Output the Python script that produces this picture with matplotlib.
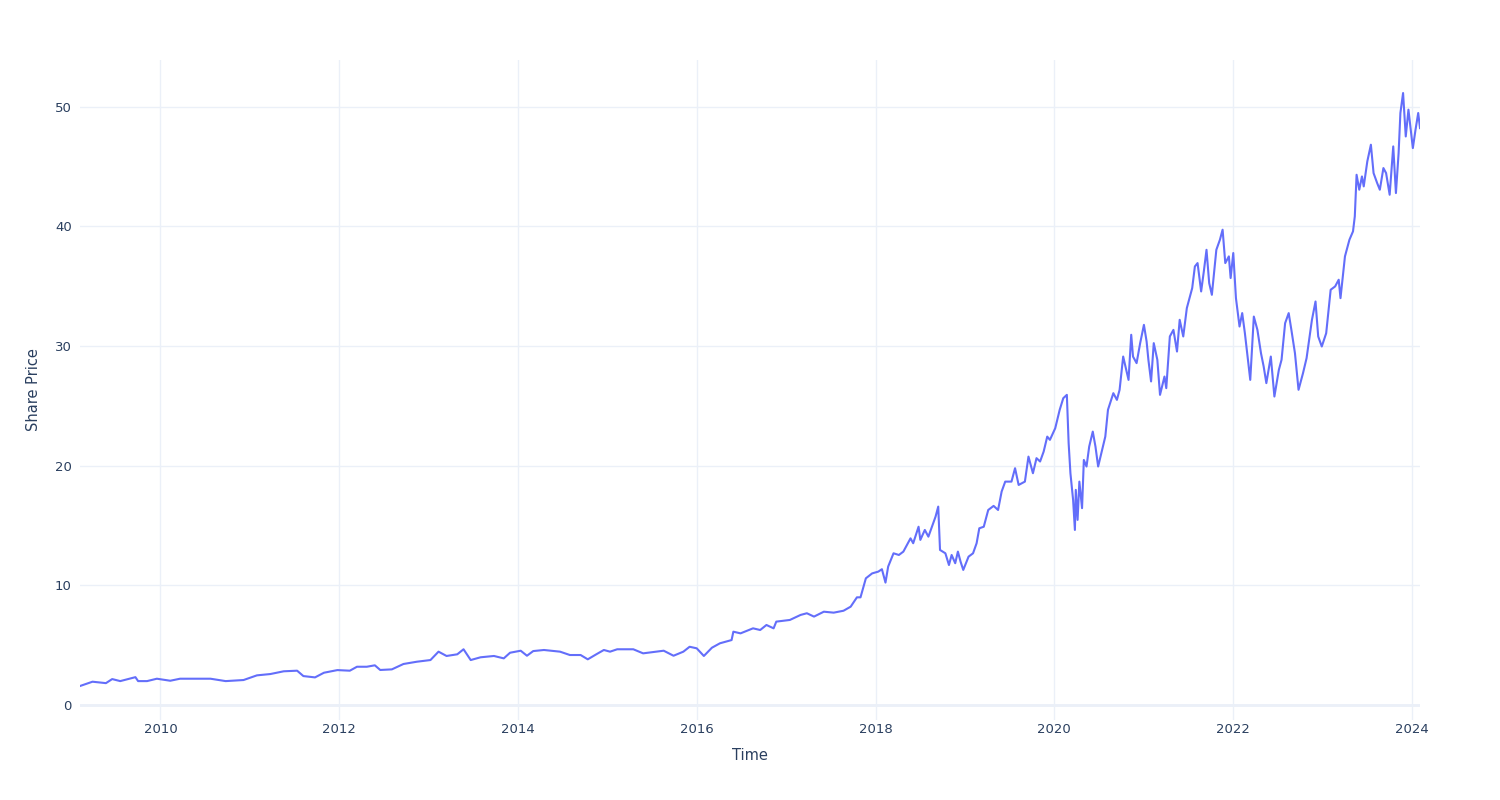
import matplotlib
matplotlib.use("Agg")
import matplotlib.pyplot as plt
import matplotlib.dates as mdates
import pandas as pd

# decimal years and share prices
years = [2009.10, 2009.24, 2009.39, 2009.46, 2009.55, 2009.72, 2009.75, 2009.85, 2009.96,
         2010.11, 2010.22, 2010.41, 2010.56, 2010.73, 2010.93, 2011.08, 2011.23, 2011.38,
         2011.53, 2011.60, 2011.73, 2011.83, 2011.98, 2012.12, 2012.20, 2012.31, 2012.40,
         2012.46, 2012.59, 2012.72, 2012.87, 2013.02, 2013.11, 2013.20, 2013.32, 2013.39,
         2013.47, 2013.58, 2013.73, 2013.84, 2013.91, 2014.03, 2014.10, 2014.17, 2014.29,
         2014.47, 2014.58, 2014.70, 2014.78, 2014.88, 2014.96, 2015.03, 2015.11, 2015.29,
         2015.40, 2015.55, 2015.63, 2015.74, 2015.85, 2015.92, 2016.00, 2016.08, 2016.17,
         2016.26, 2016.39, 2016.41, 2016.49, 2016.63, 2016.71, 2016.78, 2016.86, 2016.89,
         2017.04, 2017.16, 2017.23, 2017.31, 2017.42, 2017.53, 2017.64, 2017.72, 2017.79,
         2017.83, 2017.89, 2017.96, 2018.03, 2018.07, 2018.11, 2018.14, 2018.20, 2018.26,
         2018.31, 2018.39, 2018.42, 2018.48, 2018.50, 2018.55, 2018.59, 2018.63, 2018.67,
         2018.70, 2018.72, 2018.78, 2018.82, 2018.85, 2018.89, 2018.92, 2018.95, 2018.98,
         2019.04, 2019.09, 2019.13, 2019.16, 2019.21, 2019.26, 2019.32, 2019.37, 2019.41,
         2019.45, 2019.52, 2019.56, 2019.60, 2019.67, 2019.71, 2019.76, 2019.80, 2019.84,
         2019.88, 2019.92, 2019.95, 2020.01, 2020.06, 2020.10, 2020.14, 2020.16, 2020.18,
         2020.21, 2020.23, 2020.24, 2020.26, 2020.28, 2020.31, 2020.33, 2020.36, 2020.39,
         2020.43, 2020.46, 2020.49, 2020.53, 2020.57, 2020.60, 2020.66, 2020.70, 2020.73,
         2020.77, 2020.83, 2020.86, 2020.88, 2020.92, 2020.96, 2021.00, 2021.03, 2021.05,
         2021.08, 2021.11, 2021.15, 2021.18, 2021.23, 2021.25, 2021.29, 2021.33, 2021.37,
         2021.40, 2021.44, 2021.48, 2021.54, 2021.57, 2021.60, 2021.64, 2021.67, 2021.70,
         2021.73, 2021.76, 2021.81, 2021.85, 2021.88, 2021.91, 2021.95, 2021.97, 2022.00,
         2022.03, 2022.07, 2022.10, 2022.13, 2022.19, 2022.23, 2022.27, 2022.31, 2022.34,
         2022.37, 2022.42, 2022.46, 2022.51, 2022.54, 2022.58, 2022.62, 2022.65, 2022.69,
         2022.73, 2022.78, 2022.82, 2022.88, 2022.92, 2022.95, 2022.99, 2023.04, 2023.09,
         2023.14, 2023.18, 2023.20, 2023.25, 2023.30, 2023.34, 2023.36, 2023.38, 2023.41,
         2023.44, 2023.46, 2023.50, 2023.54, 2023.57, 2023.61, 2023.64, 2023.68, 2023.71,
         2023.75, 2023.79, 2023.82, 2023.85, 2023.87, 2023.90, 2023.93, 2023.96, 2023.99,
         2024.01, 2024.04, 2024.07, 2024.09]
prices = [1.59, 1.95, 1.83, 2.17, 2.00, 2.33, 2.00, 2.00, 2.20,
          2.03, 2.20, 2.20, 2.20, 2.00, 2.09, 2.48, 2.59, 2.82,
          2.87, 2.42, 2.31, 2.70, 2.92, 2.87, 3.20, 3.20, 3.32,
          2.93, 2.98, 3.43, 3.62, 3.76, 4.46, 4.10, 4.24, 4.66,
          3.76, 3.99, 4.10, 3.90, 4.37, 4.54, 4.12, 4.51, 4.60,
          4.46, 4.18, 4.18, 3.82, 4.26, 4.60, 4.46, 4.66, 4.66,
          4.32, 4.46, 4.54, 4.12, 4.46, 4.87, 4.74, 4.10, 4.79,
          5.16, 5.43, 6.13, 5.99, 6.41, 6.27, 6.69, 6.41, 6.97,
          7.11, 7.53, 7.67, 7.39, 7.80, 7.72, 7.88, 8.22, 9.00,
          9.00, 10.59, 11.00, 11.15, 11.35, 10.23, 11.57, 12.68, 12.54,
          12.82, 13.93, 13.52, 14.90, 13.80, 14.63, 14.07, 14.90, 15.74,
          16.58, 12.96, 12.68, 11.70, 12.54, 11.85, 12.82, 11.98, 11.29,
          12.40, 12.68, 13.52, 14.77, 14.90, 16.30, 16.64, 16.30, 17.84,
          18.67, 18.67, 19.79, 18.39, 18.67, 20.76, 19.37, 20.63, 20.35,
          21.18, 22.43, 22.16, 23.13, 24.67, 25.64, 25.92, 21.88, 19.37,
          17.14, 14.63, 17.98, 15.47, 18.67, 16.45, 20.48, 19.93, 21.60,
          22.85, 21.60, 19.93, 21.18, 22.43, 24.67, 26.06, 25.50, 26.34,
          29.12, 27.17, 30.94, 29.12, 28.57, 30.24, 31.77, 30.38, 28.85,
          27.04, 30.24, 28.85, 25.92, 27.45, 26.48, 30.80, 31.35, 29.54,
          32.19, 30.80, 33.17, 34.84, 36.65, 36.93, 34.56, 36.23, 38.04,
          35.26, 34.28, 38.04, 38.88, 39.72, 36.93, 37.49, 35.68, 37.77,
          34.00, 31.63, 32.75, 31.07, 27.17, 32.46, 31.35, 29.40, 28.29,
          26.90, 29.12, 25.78, 28.01, 28.85, 31.91, 32.75, 31.35, 29.40,
          26.34, 27.73, 28.99, 32.19, 33.72, 30.80, 29.96, 31.07, 34.70,
          34.98, 35.54, 34.00, 37.49, 38.88, 39.58, 40.83, 44.31, 43.06,
          44.17, 43.34, 45.43, 46.82, 44.45, 43.62, 43.06, 44.87, 44.45,
          42.64, 46.68, 42.78, 46.12, 49.47, 51.14, 47.51, 49.75, 47.79,
          46.54, 48.08, 49.47, 48.21]

x_label = "Time"
y_label = "Share Price"
y_ticks = [0, 10, 20, 30, 40, 50]
x_tick_years = list(range(2010, 2025, 2))


def to_date(y):
    base = pd.Timestamp(year=int(y), month=1, day=1)
    return base + pd.Timedelta(days=(y - int(y)) * 365.25)


dates = [to_date(y) for y in years]

TEXT = "#2a3f5f"
GRID = "#ebf0f8"
LINE = "#636efa"

fig = plt.figure(figsize=(15, 8), dpi=100)
ax = fig.add_axes([80 / 1500, 80 / 800, 1340 / 1500, 660 / 800])

ax.plot(dates, prices, color=LINE, linewidth=1.5, zorder=3)

ax.set_xlim(dates[0], dates[-1])
ax.set_ylim(-1.25, 53.9)

ax.set_yticks(y_ticks)
ax.set_yticklabels([str(t) for t in y_ticks])
ax.set_xticks([pd.Timestamp(year=y, month=1, day=1) for y in x_tick_years])
ax.xaxis.set_major_formatter(mdates.DateFormatter("%Y"))

ax.grid(True, color=GRID, linewidth=1, zorder=0)
ax.axhline(0, color=GRID, linewidth=2, zorder=1)
for s in ax.spines.values():
    s.set_visible(False)
ax.tick_params(axis="both", length=0, labelsize=9.5, labelcolor=TEXT)
ax.tick_params(axis="x", pad=2)
ax.tick_params(axis="y", pad=6)

fig.text(750 / 1500, 1 - 756 / 800, x_label, ha="center", va="center", fontsize=10.5, color=TEXT)
fig.text(34 / 1500, 1 - 390 / 800, y_label, ha="center", va="center", rotation=90,
         fontsize=10.5, color=TEXT)

fig.savefig("out.png", dpi=100, facecolor="white")
